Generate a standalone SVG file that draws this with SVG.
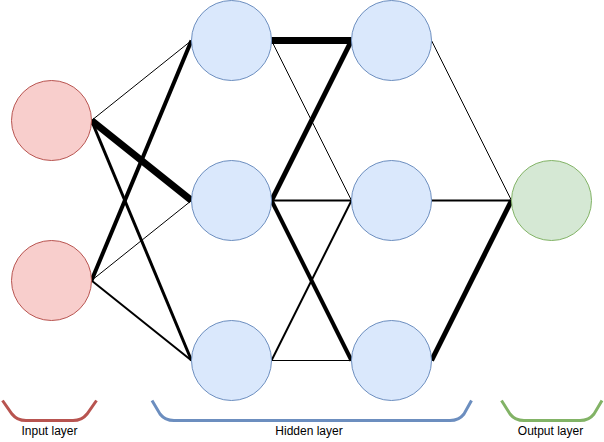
<svg xmlns="http://www.w3.org/2000/svg" width="604" height="442" viewBox="0 0 604 442">
<style>
.in{fill:#f8cecc;stroke:#b85450;stroke-width:1}
.hid{fill:#dae8fc;stroke:#6c8ebf;stroke-width:1}
.out{fill:#d5e8d4;stroke:#82b366;stroke-width:1}
.e{stroke:#000;fill:none;stroke-linejoin:miter}
.w1{stroke-width:1}
.w2{stroke-width:2}
.w3{stroke-width:3}
.w4{stroke-width:4}
.w5{stroke-width:5}
.w7{stroke-width:7}
.br{fill:none;stroke-width:3;stroke-linecap:butt}
.lbl{font-family:"Liberation Sans",Arial,sans-serif;font-size:12px;fill:#000;text-anchor:middle}
</style>
<rect width="604" height="442" fill="#fff"/>
<g id="connectors">
<line class="e w1" x1="91.5" y1="120.5" x2="191.5" y2="40.5"/>
<line class="e w7" x1="91.5" y1="120.5" x2="191.5" y2="200.5"/>
<line class="e w3" x1="91.5" y1="120.5" x2="191.5" y2="360.5"/>
<line class="e w4" x1="91.5" y1="280.5" x2="191.5" y2="40.5"/>
<line class="e w1" x1="91.5" y1="280.5" x2="191.5" y2="200.5"/>
<line class="e w2" x1="91.5" y1="280.5" x2="191.5" y2="360.5"/>
<line class="e w7" x1="271.5" y1="40.5" x2="351.5" y2="40.5"/>
<line class="e w1" x1="271.5" y1="40.5" x2="351.5" y2="200.5"/>
<line class="e w5" x1="271.5" y1="200.5" x2="351.5" y2="40.5"/>
<line class="e w2" x1="271.5" y1="200.5" x2="351.5" y2="200.5"/>
<line class="e w4" x1="271.5" y1="200.5" x2="351.5" y2="360.5"/>
<line class="e w2" x1="271.5" y1="360.5" x2="351.5" y2="200.5"/>
<line class="e w1" x1="271.5" y1="360.5" x2="351.5" y2="360.5"/>
<line class="e w1" x1="431.5" y1="40.5" x2="511.5" y2="200.5"/>
<line class="e w2" x1="431.5" y1="200.5" x2="511.5" y2="200.5"/>
<line class="e w5" x1="431.5" y1="360.5" x2="511.5" y2="200.5"/>
</g>
<g id="input1"><circle class="in" cx="51.5" cy="120.5" r="40"/></g>
<g id="input2"><circle class="in" cx="51.5" cy="280.5" r="40"/></g>
<g id="h1a"><circle class="hid" cx="231.5" cy="40.5" r="40"/></g>
<g id="h1b"><circle class="hid" cx="231.5" cy="200.5" r="40"/></g>
<g id="h1c"><circle class="hid" cx="231.5" cy="360.5" r="40"/></g>
<g id="h2a"><circle class="hid" cx="391.5" cy="40.5" r="40"/></g>
<g id="h2b"><circle class="hid" cx="391.5" cy="200.5" r="40"/></g>
<g id="h2c"><circle class="hid" cx="391.5" cy="360.5" r="40"/></g>
<g id="output"><circle class="out" cx="551.5" cy="200.5" r="40"/></g>
<g id="input-layer">
<path class="br" stroke="#b85450" d="M2.5,400.5 L12,414 Q17,420.5 26,420.5 L73,420.5 Q82,420.5 87,414 L96.5,400.5"/>
<text class="lbl" x="49.5" y="435">Input layer</text>
</g>
<g id="hidden-layer">
<path class="br" stroke="#6c8ebf" d="M152,400.5 L160,414 Q165,420.5 174,420.5 L450,420.5 Q459,420.5 464,414 L471.5,400.5"/>
<text class="lbl" x="309" y="435">Hidden layer</text>
</g>
<g id="output-layer">
<path class="br" stroke="#82b366" d="M501.5,400.5 L510,414 Q515,420.5 524,420.5 L580,420.5 Q589,420.5 594,414 L602,400.5"/>
<text class="lbl" x="550.5" y="435">Output layer</text>
</g>
</svg>
